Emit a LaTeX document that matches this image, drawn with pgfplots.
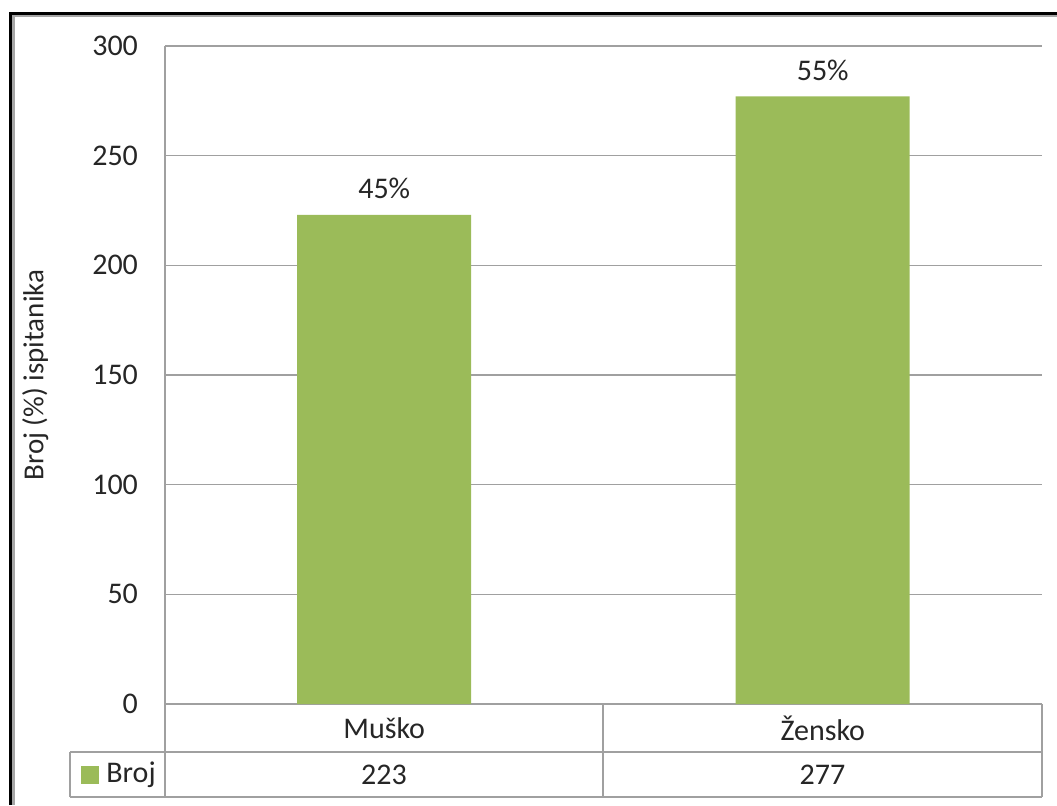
\documentclass[border=0pt]{standalone}
\usepackage{fontspec}
\setmainfont{Carlito}
\usepackage{pgfplots}
\pgfplotsset{compat=1.18}
\definecolor{barg}{HTML}{9BBB59}
\definecolor{gridg}{HTML}{A0A0A0}
\begin{document}
\begin{tikzpicture}
\path[use as bounding box] (0,0) rectangle (528.5pt,402.5pt);
\begin{axis}[
  at={(82.5pt,50.5pt)}, anchor=south west,
  scale only axis, width=438.5pt, height=329pt,
  xmin=-0.5, xmax=1.5, ymin=0, ymax=300,
  ytick={0,50,...,300},
  xtick={0,1}, xticklabels={Muško,Žensko},
  major tick length=0pt,
  axis x line*=bottom, axis y line*=left,
  axis line style={-, draw=gridg, line width=0.7pt},
  ymajorgrids, grid style={draw=gridg, line width=0.7pt},
  /pgf/number format/assume math mode=true,
  tick label style={font=\fontsize{15}{18}\selectfont, text=black!85},
  yticklabel style={xshift=-10pt},
  xticklabel style={anchor=center, yshift=-12pt},
  ylabel={Broj (\%) ispitanika},
  every axis y label/.style={at={(axis description cs:-0.148,0.5)}, rotate=90, anchor=center, font=\fontsize{14.5}{17}\selectfont, text=black!85},
  ybar, bar width=87pt,
  point meta=explicit symbolic,
  nodes near coords,
  every node near coord/.append style={anchor=center, yshift=13pt, font=\fontsize{15}{18}\selectfont, text=black!85},
  clip=false,
]
\addplot[fill=barg, draw=none] coordinates {(0,223) [45\%] (1,277) [55\%]};
\end{axis}
% data table below the axis
\draw[draw=gridg, line width=0.7pt] (82.5pt,4pt) -- (82.5pt,50.5pt);
\draw[draw=gridg, line width=0.7pt] (35pt,26.5pt) -- (521pt,26.5pt);
\draw[draw=gridg, line width=0.7pt] (35pt,4pt) -- (521pt,4pt);
\draw[draw=gridg, line width=0.7pt] (35pt,4pt) -- (35pt,26.5pt);
\draw[draw=gridg, line width=0.7pt] (301.5pt,4pt) -- (301.5pt,50.5pt);
\draw[draw=gridg, line width=0.7pt] (521pt,4pt) -- (521pt,50.5pt);
\fill[barg] (40.5pt,10.5pt) rectangle (49.5pt,19.5pt);
\node[anchor=west, inner sep=0pt, font=\fontsize{15}{18}\selectfont, text=black!85] at (53pt,15pt) {Broj};
\node[font=\fontsize{15}{18}\selectfont, text=black!85] at (192pt,15pt) {223};
\node[font=\fontsize{15}{18}\selectfont, text=black!85] at (411.25pt,15pt) {277};
% frame
\draw[black, line width=1.5pt] (5.25pt,0pt) -- (5.25pt,395.75pt) -- (528.5pt,395.75pt);
\draw[gray!70, line width=1.2pt] (6.75pt,0pt) -- (6.75pt,394.4pt) -- (528.5pt,394.4pt);
\end{tikzpicture}
\end{document}
